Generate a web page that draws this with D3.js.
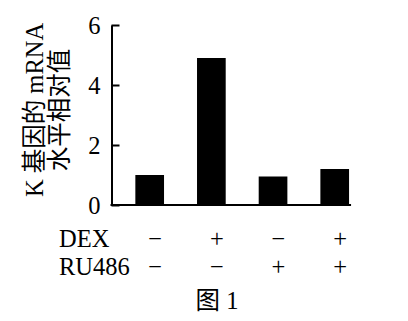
<!DOCTYPE html>
<html>
<head>
<meta charset="utf-8">
<script src="https://cdn.jsdelivr.net/npm/d3@7"></script>
<style>
    html, body {
        margin: 0;
        padding: 0;
        background: #fff;
    }
    svg text {
        font-family: "Liberation Serif", "Times New Roman", "Noto Sans CJK SC", serif;
        font-size: 24.5px;
        fill: #000;
    }
</style>
</head>
<body>
<svg width="408" height="321"></svg>
<script>
// 四组处理
const groups = ["A", "B", "C", "D"];
// K 基因 mRNA 相对值
const values = [1.0, 4.9, 0.95, 1.2];
const dexSigns = ["\u2212", "+", "\u2212", "+"];
const ruSigns = ["\u2212", "\u2212", "+", "+"];
const rowLabels = ["DEX", "RU486"];
const yTicks = [0, 2, 4, 6];
const yLabelLines = ["K 基因的 mRNA", "水平相对值"];
const caption = "图 1";

const svg = d3.select("svg");

const axisX = 111.5,
    baseY = 205;

const x = d3.scaleBand()
    .domain(groups)
    .range([118.85, 365.55])
    .paddingInner(0.535)
    .paddingOuter(0.2675);

const y = d3.scaleLinear()
    .domain([0, 6])
    .range([baseY, 25]);

// 柱子
svg.append("g")
    .selectAll("rect")
    .data(values)
    .enter().append("rect")
    .attr("x", function (d, i) {
        return x(groups[i]);
    })
    .attr("y", function (d) {
        return y(d);
    })
    .attr("width", x.bandwidth())
    .attr("height", function (d) {
        return y(0) - y(d);
    })
    .attr("fill", "#000");

// 纵轴 (刻度朝内)
const yAxis = svg.append("g")
    .attr("transform", "translate(" + axisX + ",0)")
    .call(d3.axisLeft(y)
        .tickValues(yTicks)
        .tickFormat(d3.format("d"))
        .tickSizeInner(-8)
        .tickSizeOuter(0)
        .tickPadding(11));

yAxis.select(".domain")
    .attr("stroke", "#000")
    .attr("stroke-width", 2);
yAxis.selectAll(".tick line")
    .attr("stroke", "#000")
    .attr("stroke-width", 2);
yAxis.selectAll(".tick text")
    .attr("font-size", null)
    .attr("font-family", null)
    .attr("dy", "0.34em");
yAxis.attr("font-size", null).attr("font-family", null);

// 横轴
svg.append("line")
    .attr("x1", axisX - 1)
    .attr("x2", x(groups[groups.length - 1]) + x.bandwidth() + 2)
    .attr("y1", y(0))
    .attr("y2", y(0))
    .attr("stroke", "#000")
    .attr("stroke-width", 2);

// 纵轴标题
svg.append("g")
    .selectAll("text")
    .data(yLabelLines)
    .enter().append("text")
    .attr("transform", function (d, i) {
        return "translate(" + (43 + i * 24.5) + ",110) rotate(-90)";
    })
    .attr("text-anchor", "middle")
    .text(function (d) {
        return d;
    });

// 处理行
const rows = [dexSigns, ruSigns];
const rowY = [246.5, 274.5];

rows.forEach(function (signs, r) {
    svg.append("text")
        .attr("x", 59)
        .attr("y", rowY[r])
        .text(rowLabels[r]);

    svg.append("g")
        .selectAll("text")
        .data(signs)
        .enter().append("text")
        .attr("x", function (d, i) {
            return x(groups[i]) + x.bandwidth() / 2 + 5.5;
        })
        .attr("y", rowY[r])
        .attr("text-anchor", "middle")
        .text(function (d) {
            return d;
        });
});

// 图注
svg.append("text")
    .attr("x", 217)
    .attr("y", 309)
    .attr("text-anchor", "middle")
    .text(caption);
</script>
</body>
</html>
